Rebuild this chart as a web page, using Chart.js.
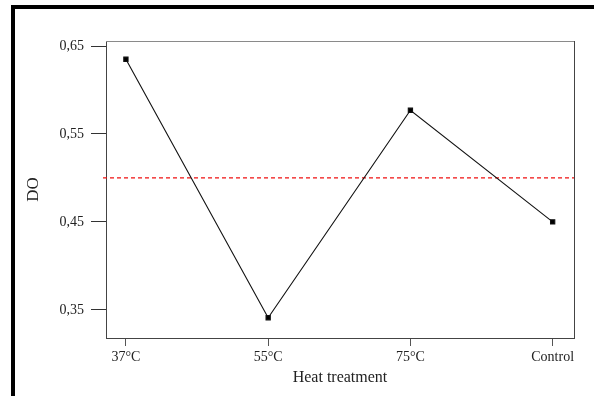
<!DOCTYPE html>
<html>
<head>
<meta charset="utf-8">
<script src="https://cdn.jsdelivr.net/npm/chart.js@4/dist/chart.umd.min.js"></script>
<style>
  html, body { margin: 0; padding: 0; background: #fff; overflow: hidden; }
  #frame {
    position: absolute; left: 11px; top: 5px;
    width: 700px; height: 500px;
    border: 4px solid #000;
  }
  #wrap { position: absolute; left: 0; top: 0; width: 594px; height: 396px; }
</style>
</head>
<body>
<div id="frame"></div>
<div id="wrap"><canvas id="do-chart" width="594" height="396"></canvas></div>
<script>
const categories = ["37°C", "55°C", "75°C", "Control"];
const doValues = [0.635, 0.341, 0.577, 0.45];
const yTicks = [0.35, 0.45, 0.55, 0.65];
const refLine = 0.5;

const ctx = document.getElementById("do-chart");

const points = [];
for (let i = 0; i < categories.length; i++) {
  points.push({ x: i, y: doValues[i] });
}

// dashed red reference line + top/right edges of the plot box
const extras = {
  id: "extras",
  beforeDatasetsDraw(chart) {
    const { ctx, chartArea } = chart;
    const y = chart.scales.y.getPixelForValue(refLine);
    ctx.save();
    ctx.strokeStyle = "#f01010";
    ctx.lineWidth = 1.3;
    ctx.setLineDash([4, 3]);
    ctx.beginPath();
    ctx.moveTo(chartArea.left - 3, y);
    ctx.lineTo(chartArea.right, y);
    ctx.stroke();
    ctx.setLineDash([]);
    ctx.lineWidth = 1;
    ctx.strokeStyle = "#8a8a8a";
    ctx.beginPath();
    ctx.moveTo(chartArea.left, chartArea.top + 0.5);
    ctx.lineTo(chartArea.right, chartArea.top + 0.5);
    ctx.stroke();
    ctx.strokeStyle = "#444";
    ctx.beginPath();
    ctx.moveTo(chartArea.right + 0.5, chartArea.top);
    ctx.lineTo(chartArea.right + 0.5, chartArea.bottom);
    ctx.stroke();
    ctx.restore();
  },
};

const font = { family: "'Liberation Serif', 'Times New Roman', serif", size: 14 };

new Chart(ctx, {
  type: "line",
  data: {
    datasets: [
      {
        data: points,
        borderColor: "#111",
        backgroundColor: "#000",
        borderWidth: 1.1,
        pointStyle: "rect",
        pointRadius: 3,
        tension: 0,
      },
    ],
  },
  plugins: [extras],
  options: {
    responsive: false,
    animation: false,
    devicePixelRatio: 1,
    layout: { padding: { left: 0, top: 41, right: 20, bottom: 0 } },
    plugins: {
      legend: { display: false },
      tooltip: { enabled: false },
    },
    scales: {
      x: {
        type: "linear",
        min: -0.14,
        max: 3.15,
        afterBuildTicks: (scale) => {
          scale.ticks = categories.map((c, i) => ({ value: i }));
        },
        afterFit: (scale) => {
          scale.height = 58;
        },
        ticks: {
          callback: (v) => categories[v],
          color: "#222",
          font: font,
          padding: 3,
          maxRotation: 0,
          autoSkip: false,
        },
        grid: { drawOnChartArea: false, tickLength: 8, tickColor: "#555" },
        border: { color: "#444" },
        title: {
          display: true,
          text: "Heat treatment",
          color: "#222",
          font: { family: font.family, size: 16 },
          padding: { top: 0, bottom: 9 },
        },
      },
      y: {
        min: 0.318,
        max: 0.6557,
        afterBuildTicks: (scale) => {
          scale.ticks = yTicks.map((v) => ({ value: v }));
        },
        afterFit: (scale) => {
          scale.width = 106;
        },
        ticks: {
          callback: (v) => v.toFixed(2).replace(".", ","),
          color: "#222",
          font: font,
          padding: 7,
          autoSkip: false,
        },
        grid: { drawOnChartArea: false, tickLength: 15, tickColor: "#333" },
        border: { color: "#444" },
        title: {
          display: true,
          text: "DO",
          color: "#222",
          font: { family: font.family, size: 17 },
          padding: { top: 23, bottom: 0 },
        },
      },
    },
  },
});
</script>
</body>
</html>
